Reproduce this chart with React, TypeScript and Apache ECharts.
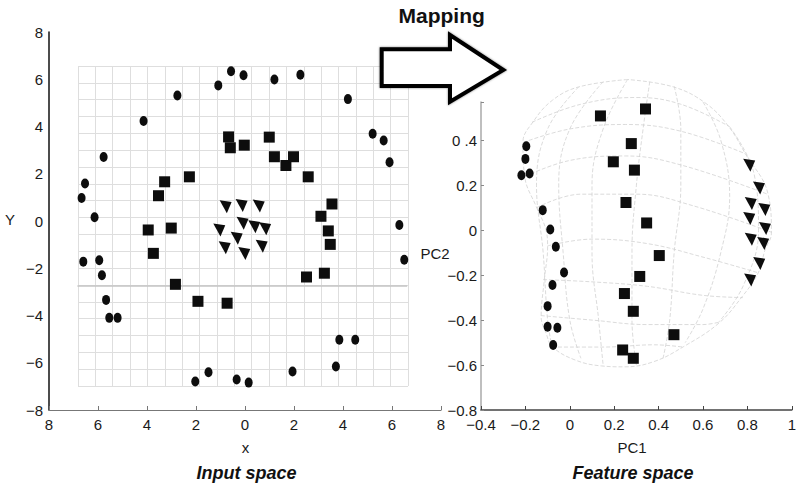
import React, { useEffect, useRef } from "react";
import * as echarts from "echarts";

// ---------- Input space data ----------
const inputCircles: [number, number][] = [
  [-0.57, 6.34], [-0.06, 6.17], [-1.09, 5.74], [1.2, 5.99], [2.26, 6.19],
  [-2.76, 5.31], [4.2, 5.16], [-4.14, 4.23], [5.21, 3.69], [5.66, 3.41],
  [5.9, 2.49], [-5.77, 2.71], [-6.53, 1.59], [-6.67, 0.97], [-6.14, 0.16],
  [6.3, -0.17], [-6.6, -1.72], [-5.95, -1.66], [-5.84, -2.3], [-5.67, -3.34],
  [-5.54, -4.1], [-5.2, -4.1], [6.5, -1.64], [3.85, -5.03], [4.5, -5.03],
  [3.71, -6.16], [1.94, -6.37], [-1.49, -6.4], [-2.03, -6.79], [-0.34, -6.71],
  [0.15, -6.84],
];
const inputSquares: [number, number][] = [
  [-0.67, 3.56], [-0.6, 3.1], [-0.03, 3.21], [0.99, 3.55], [1.2, 2.72],
  [1.67, 2.35], [1.98, 2.72], [2.58, 1.87], [-2.27, 1.87], [-3.28, 1.66],
  [-3.53, 1.07], [3.55, 0.72], [3.1, 0.2], [3.4, -0.42], [-3.95, -0.38],
  [-3.01, -0.3], [3.48, -0.99], [-3.74, -1.37], [2.51, -2.37], [3.24, -2.21],
  [-2.84, -2.68], [-1.92, -3.4], [-0.73, -3.48],
];
const inputTriangles: [number, number][] = [
  [-0.79, 0.6], [-0.14, 0.66], [0.56, 0.63], [-0.1, -0.1], [0.38, -0.24],
  [0.82, -0.33], [-1.05, -0.38], [-0.34, -0.73], [-0.83, -1.13], [-0.03, -1.38],
  [0.68, -1.07],
];

// ---------- Feature space data ----------
const featureCircles: [number, number][] = [
  [-0.196, 0.373], [-0.2, 0.317], [-0.218, 0.244], [-0.181, 0.252], [-0.122, 0.089],
  [-0.088, 0.003], [-0.063, -0.074], [-0.026, -0.188], [-0.078, -0.244], [-0.1, -0.338],
  [-0.1, -0.43], [-0.056, -0.434], [-0.075, -0.511],
];
const featureSquares: [number, number][] = [
  [0.305, 0.581], [0.341, 0.539], [0.138, 0.508], [0.277, 0.385], [0.196, 0.304],
  [0.291, 0.267], [0.253, 0.123], [0.346, 0.032], [0.403, -0.113], [0.315, -0.206],
  [0.246, -0.282], [0.286, -0.361], [0.469, -0.465], [0.238, -0.533], [0.286, -0.57],
];
const featureTriangles: [number, number][] = [
  [0.808, 0.289], [0.852, 0.188], [0.815, 0.118], [0.876, 0.092], [0.808, 0.052],
  [0.879, 0.007], [0.815, -0.041], [0.871, -0.059], [0.853, -0.148], [0.812, -0.222],
];

// ---------- decorative wireframe of the feature-space surface ----------
const meshOutline: [number, number][] = [
  [0.26, 0.67], [0.04, 0.637], [-0.078, 0.578], [-0.166, 0.481], [-0.211, 0.392],
  [-0.203, 0.237], [-0.151, 0.104], [-0.107, 0.0], [-0.1, -0.074], [-0.115, -0.222],
  [-0.129, -0.385], [-0.107, -0.458], [-0.078, -0.519], [0.025, -0.578], [0.143, -0.604],
  [0.246, -0.608], [0.378, -0.585], [0.511, -0.519], [0.672, -0.413], [0.776, -0.296],
  [0.848, -0.191], [0.879, -0.089], [0.908, -0.013], [0.892, 0.164], [0.79, 0.341],
  [0.717, 0.459], [0.614, 0.563], [0.467, 0.637], [0.26, 0.67],
];
const meshLatitudes: [number, number][][] = [
  [[-0.17, 0.48], [0.05, 0.56], [0.3, 0.59], [0.5, 0.56], [0.72, 0.46]],
  [[-0.21, 0.39], [0.0, 0.45], [0.25, 0.47], [0.5, 0.44], [0.79, 0.34]],
  [[-0.2, 0.24], [0.0, 0.31], [0.25, 0.33], [0.5, 0.29], [0.89, 0.16]],
  [[-0.15, 0.1], [0.05, 0.16], [0.3, 0.16], [0.55, 0.11], [0.91, -0.01]],
  [[-0.1, -0.07], [0.1, -0.04], [0.35, -0.06], [0.6, -0.12], [0.85, -0.19]],
  [[-0.12, -0.22], [0.1, -0.23], [0.35, -0.25], [0.6, -0.29], [0.78, -0.3]],
  [[-0.13, -0.38], [0.1, -0.4], [0.35, -0.42], [0.6, -0.42], [0.67, -0.41]],
  [[-0.08, -0.52], [0.15, -0.52], [0.38, -0.51], [0.51, -0.52]],
];
const meshMeridians: [number, number][][] = [
  [[0.04, 0.637], [-0.1, 0.45], [-0.15, 0.2], [-0.12, -0.1], [-0.1, -0.4], [-0.08, -0.52]],
  [[0.15, 0.66], [0.0, 0.45], [-0.05, 0.2], [-0.03, -0.1], [0.0, -0.4], [0.05, -0.57]],
  [[0.26, 0.67], [0.15, 0.45], [0.1, 0.2], [0.1, -0.1], [0.13, -0.4], [0.15, -0.6]],
  [[0.36, 0.66], [0.33, 0.45], [0.3, 0.2], [0.28, -0.1], [0.28, -0.4], [0.3, -0.6]],
  [[0.47, 0.64], [0.5, 0.45], [0.5, 0.2], [0.47, -0.1], [0.45, -0.4], [0.42, -0.57]],
  [[0.6, 0.57], [0.68, 0.4], [0.72, 0.15], [0.68, -0.1], [0.6, -0.35], [0.52, -0.5]],
  [[0.72, 0.46], [0.83, 0.25], [0.85, 0.0], [0.78, -0.25], [0.67, -0.41]],
];
// darker band line in the input-space mesh
const inputBandLine: [number, number][] = [[-6.84, -2.75], [6.62, -2.75]];

const FONT = "'Liberation Sans', Arial, Helvetica, sans-serif";
const MINUS = "\u2212";

const circleSym = "path://M0,1A1,1 0 1,1 2,1A1,1 0 1,1 0,1Z";
const arrowSym = "path://M0,0L10,1.5L6,11Z";

function fmtSigned(v: number, digits: number) {
  const r = Math.round(v * 10) / 10;
  if (r === 0) return "0";
  const s = Math.abs(r).toFixed(digits).replace(/\.0$/, "");
  return r < 0 ? MINUS + s : s;
}

function scatter(data: [number, number][], idx: number, kind: string) {
  const base: any = {
    type: "scatter",
    xAxisIndex: idx,
    yAxisIndex: idx,
    data,
    itemStyle: { color: "#0d0d0d", opacity: 1 },
    z: 5,
    silent: true,
  };
  if (kind === "circle") {
    base.symbol = circleSym;
    base.symbolSize = [8, 10];
  } else if (kind === "square") {
    base.symbol = "rect";
    base.symbolSize = 11;
  } else {
    base.symbol = arrowSym;
    base.symbolSize = [12, 13];
  }
  return base;
}

function meshLine(data: [number, number][]) {
  return {
    type: "line",
    xAxisIndex: 1,
    yAxisIndex: 1,
    data,
    smooth: 0.4,
    symbol: "none",
    silent: true,
    clip: false,
    z: 1,
    lineStyle: { color: "#d2d2d2", width: 0.8, type: [4, 2] },
  };
}

export default function App() {
  const ref = useRef<HTMLDivElement>(null);
  useEffect(() => {
    if (!ref.current) return;
    const chart = echarts.init(ref.current, undefined, { renderer: "svg" });
    const tickFont = { fontFamily: FONT, fontSize: 15, color: "#1a1a1a" };
    const option: any = {
      animation: false,
      backgroundColor: "#fff",
      grid: [
        { left: 49, top: 32, width: 392, height: 378 },
        { left: 481, top: 102, width: 316.5, height: 308 },
        { left: 78, top: 66, width: 330, height: 320 },
      ],
      xAxis: [
        {
          gridIndex: 0, type: "value", min: -8, max: 8, interval: 2,
          axisLine: { onZero: false, lineStyle: { color: "#777", width: 1.2 } },
          axisTick: { inside: true, length: 4, lineStyle: { color: "#777" } },
          splitLine: { show: false },
          axisLabel: { ...tickFont, margin: 7, formatter: (v: number) => String(Math.abs(v)) },
        },
        {
          gridIndex: 1, type: "value", min: -0.4, max: 1, interval: 0.2,
          axisLine: { onZero: false, lineStyle: { color: "#444", width: 1.5 } },
          axisTick: { inside: true, length: 4, lineStyle: { color: "#444" } },
          splitLine: { show: false },
          axisLabel: { ...tickFont, margin: 7, formatter: (v: number) => fmtSigned(v, 1) },
        },
        {
          gridIndex: 2, type: "value", min: 0, max: 19, interval: 1,
          axisLine: { show: false }, axisTick: { show: false }, axisLabel: { show: false },
          splitLine: { show: true, lineStyle: { color: "#dedede", width: 1 } },
        },
      ],
      yAxis: [
        {
          gridIndex: 0, type: "value", min: -8, max: 8, interval: 2,
          axisLine: { onZero: false, lineStyle: { color: "#111", width: 1.5 } },
          axisTick: { show: false },
          splitLine: { show: false },
          axisLabel: { ...tickFont, margin: 6, formatter: (v: number) => fmtSigned(v, 0) },
        },
        {
          gridIndex: 1, type: "value", min: -0.8, max: 0.57, interval: 0.2,
          axisLine: { onZero: false, lineStyle: { color: "#aaa", width: 1.5 } },
          axisTick: { inside: true, length: 3, lineStyle: { color: "#888" } },
          splitLine: { show: false },
          axisLabel: {
            ...tickFont, margin: 4,
            formatter: (v: number) => {
              const r = Math.round(v * 10) / 10;
              if (Math.abs(r - v) > 1e-6) return "";
              if (r === 0.4) return "0 .4";
              return fmtSigned(r, 1);
            },
          },
        },
        {
          gridIndex: 2, type: "value", min: 0, max: 19, interval: 1,
          axisLine: { show: false }, axisTick: { show: false }, axisLabel: { show: false },
          splitLine: { show: true, lineStyle: { color: "#dedede", width: 1 } },
        },
      ],
      series: [
        { type: "scatter", xAxisIndex: 2, yAxisIndex: 2, data: [], silent: true },
        {
          type: "line", xAxisIndex: 0, yAxisIndex: 0, data: inputBandLine, symbol: "none",
          silent: true, z: 2, lineStyle: { color: "#c4c4c4", width: 1.6 },
        },
        meshLine(meshOutline),
        ...meshLatitudes.map((d) => meshLine(d)),
        ...meshMeridians.map((d) => meshLine(d)),
        scatter(inputCircles, 0, "circle"),
        scatter(inputSquares, 0, "square"),
        scatter(inputTriangles, 0, "tri"),
        scatter(featureCircles, 1, "circle"),
        scatter(featureSquares, 1, "square"),
        scatter(featureTriangles, 1, "tri"),
      ],
      graphic: [
        {
          type: "polygon",
          shape: {
            points: [
              [381.7, 49.3], [450, 49.3], [450, 35], [503.3, 70],
              [450, 101.7], [450, 86], [381.7, 86],
            ],
          },
          style: { fill: "#fff", stroke: "#000", lineWidth: 4, lineJoin: "miter",
            shadowBlur: 2, shadowColor: "rgba(0,0,0,0.5)" },
          z: 100,
        },
        { type: "text", x: 441.7, y: 15, z: 100,
          style: { text: "Mapping", fontFamily: FONT, fontSize: 21, fontWeight: "bold",
            fill: "#111", textAlign: "center", textVerticalAlign: "middle" } },
        { type: "text", x: 10, y: 219, z: 100,
          style: { text: "Y", fontFamily: FONT, fontSize: 15, fill: "#1a1a1a",
            textAlign: "center", textVerticalAlign: "middle" } },
        { type: "text", x: 245.5, y: 447, z: 100,
          style: { text: "x", fontFamily: FONT, fontSize: 15, fill: "#1a1a1a",
            textAlign: "center", textVerticalAlign: "middle" } },
        { type: "text", x: 435, y: 253, z: 100,
          style: { text: "PC2", fontFamily: FONT, fontSize: 15, fill: "#1a1a1a",
            textAlign: "center", textVerticalAlign: "middle" } },
        { type: "text", x: 632, y: 447, z: 100,
          style: { text: "PC1", fontFamily: FONT, fontSize: 15, fill: "#1a1a1a",
            textAlign: "center", textVerticalAlign: "middle" } },
        { type: "text", x: 246.5, y: 473, z: 100,
          style: { text: "Input space", fontFamily: FONT, fontSize: 18, fontWeight: "bold",
            fontStyle: "italic", fill: "#111", textAlign: "center", textVerticalAlign: "middle" } },
        { type: "text", x: 633, y: 473, z: 100,
          style: { text: "Feature space", fontFamily: FONT, fontSize: 18, fontWeight: "bold",
            fontStyle: "italic", fill: "#111", textAlign: "center", textVerticalAlign: "middle" } },
      ],
    };
    chart.setOption(option);
    return () => chart.dispose();
  }, []);
  return (
    <div
      ref={ref}
      style={{ position: "fixed", left: 0, top: 0, width: 799, height: 488, background: "#fff" }}
    />
  );
}
